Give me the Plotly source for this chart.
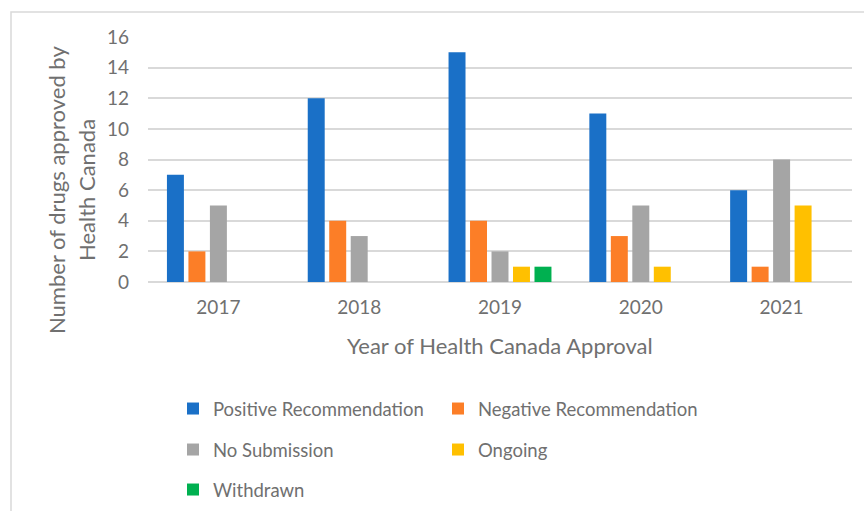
import plotly.graph_objects as go

years = ["2017", "2018", "2019", "2020", "2021"]
positive = [7, 12, 15, 11, 6]
negative = [2, 4, 4, 3, 1]
no_submission = [5, 3, 2, 5, 8]
ongoing = [0, 0, 1, 1, 5]
withdrawn = [0, 0, 1, 0, 0]

series = [
    ("Positive Recommendation", positive, "#1A70C7", "legend"),
    ("Negative Recommendation", negative, "#FC7E27", "legend"),
    ("No Submission", no_submission, "#A5A5A5", "legend2"),
    ("Ongoing", ongoing, "#FFC000", "legend2"),
    ("Withdrawn", withdrawn, "#00B050", "legend3"),
]

FONT = "Lato"
TXT = "#707070"

fig = go.Figure()
for name, vals, color, leg in series:
    fig.add_trace(go.Bar(
        x=years, y=vals, name=name, marker_color=color,
        marker_line_width=0, legend=leg,
    ))

W, H = 864, 511
L, R, T, B = 148, 12, 37, 229
pw, ph = W - L - R, H - T - B

def px(xp):
    return (xp - L) / pw

def py(yp):
    return (H - B - yp) / ph

def cx(xp):
    return xp / W

def cy(yp):
    return 1 - yp / H

leg_common = dict(orientation="h", entrywidth=220, entrywidthmode="pixels",
                  font=dict(family=FONT, size=18.5, color=TXT),
                  xref="container", yref="container",
                  xanchor="left", yanchor="middle", bgcolor="rgba(0,0,0,0)",
                  traceorder="normal")

fig.update_layout(
    width=W, height=H,
    margin=dict(l=L, r=R, t=T, b=B, pad=0),
    paper_bgcolor="white", plot_bgcolor="white",
    barmode="group", bargap=0.237, bargroupgap=0.21,
    font=dict(family=FONT, color=TXT),
    showlegend=True,
    legend=dict(x=cx(173), y=cy(409), **leg_common),
    legend2=dict(x=cx(173), y=cy(450), **leg_common),
    legend3=dict(x=cx(173), y=cy(490), **leg_common),
    xaxis=dict(
        showgrid=False, showline=False, zeroline=False,
        tickfont=dict(family=FONT, size=19, color=TXT),
        ticks="", ticklabelstandoff=12,
    ),
    yaxis=dict(
        range=[0, 16], dtick=2, tick0=0,
        showgrid=True, gridcolor="#D9D9D9", gridwidth=1.5,
        zeroline=True, zerolinecolor="#D9D9D9", zerolinewidth=1.5,
        showline=False,
        tickfont=dict(family=FONT, size=19, color=TXT),
        ticks="", ticklabelstandoff=18,
    ),
    annotations=[
        dict(text="Number of drugs approved by", textangle=-90,
             xref="paper", yref="paper", x=px(57), y=py(190),
             xanchor="center", yanchor="middle", showarrow=False,
             font=dict(family=FONT, size=22, color=TXT)),
        dict(text="Health Canada", textangle=-90,
             xref="paper", yref="paper", x=px(87), y=py(190),
             xanchor="center", yanchor="middle", showarrow=False,
             font=dict(family=FONT, size=22, color=TXT)),
        dict(text="Year of Health Canada Approval",
             xref="paper", yref="paper", x=px(500), y=py(345),
             xanchor="center", yanchor="middle", showarrow=False,
             font=dict(family=FONT, size=22, color=TXT)),
    ],
    shapes=[
        dict(type="rect", xref="paper", yref="paper",
             x0=px(11), x1=px(880), y0=py(530), y1=py(12),
             line=dict(color="#D9D9D9", width=1.5), fillcolor="rgba(0,0,0,0)",
             layer="below"),
    ],
)

fig.write_html("out.html",
               config={"displayModeBar": False},
               post_script="document.body.style.margin='0px';document.body.style.overflow='hidden';")
